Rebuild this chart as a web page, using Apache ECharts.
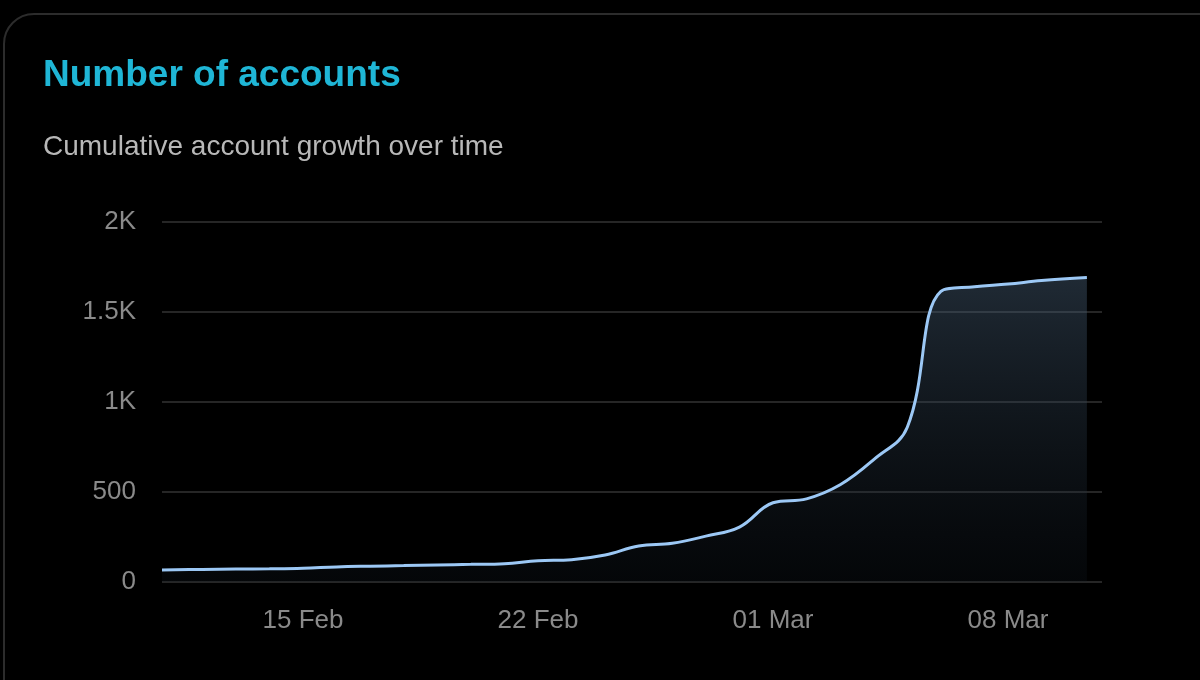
<!DOCTYPE html>
<html><head><meta charset="utf-8">
<script src="https://cdn.jsdelivr.net/npm/echarts@6/dist/echarts.min.js"></script>
<style>html,body{margin:0;background:#000;}#c{width:1200px;height:680px;}</style>
</head><body><div id="c"></div>
<script>
// days relative to 15 Feb 2025
const days = [-4.2,-3,-2,-1,0,1,2,3,4,5,6,7,8,9,10,11,12,13,14,15,16,17,18,19,20,21,22,23.35];
const accounts = [66,70,72,73,76,84,88,91,95,98,102,118,124,150,200,215,255,305,440,462,540,680,860,1615,1640,1655,1675,1692];
const tickDays = [0,7,14,21];
const tickLabels = ['15 Feb','22 Feb','01 Mar','08 Mar'];
const chart = echarts.init(document.getElementById('c'));
chart.setOption({
  backgroundColor:'#000',
  animation:false,
  title:[
    {text:'Number of accounts',left:38,top:52,textStyle:{color:'#1fb6d6',fontSize:37,fontWeight:'bold',fontFamily:'Liberation Sans'}},
    {text:'Cumulative account growth over time',left:38,top:128,textStyle:{color:'#b8b8b8',fontSize:28,fontWeight:'normal',fontFamily:'Liberation Sans'}}
  ],
  graphic:[{type:'rect',shape:{x:4,y:14,width:1300,height:800,r:30},style:{fill:'none',stroke:'#2c2c2c',lineWidth:2}}],
  grid:{left:162,right:98,top:222,bottom:98},
  xAxis:{type:'value',min:-4.2,max:23.8,
    axisLine:{show:false},axisTick:{show:false},splitLine:{show:false},
    axisLabel:{customValues:tickDays,color:'#8a8a8a',fontSize:26,margin:26,fontFamily:'Liberation Sans',
      formatter:v=>tickLabels[tickDays.indexOf(Math.round(v))] || ''}},
  yAxis:{type:'value',min:0,max:2000,interval:500,
    axisLine:{show:false},axisTick:{show:false},
    splitLine:{lineStyle:{color:'#262626',width:2}},
    axisLabel:{color:'#8a8a8a',fontSize:26,margin:26,fontFamily:'Liberation Sans',
      formatter:v=>v>=1000?(v/1000)+'K':String(v)}},
  series:[{type:'line',smooth:0.4,showSymbol:false,
    data:days.map((d,i)=>[d,accounts[i]]),
    lineStyle:{color:'#9cc8f5',width:3},
    areaStyle:{color:new echarts.graphic.LinearGradient(0,0,0,1,[{offset:0,color:'rgba(75,100,125,0.6)'},{offset:1,color:'rgba(20,30,40,0.3)'}])}}]
});
</script></body></html>
